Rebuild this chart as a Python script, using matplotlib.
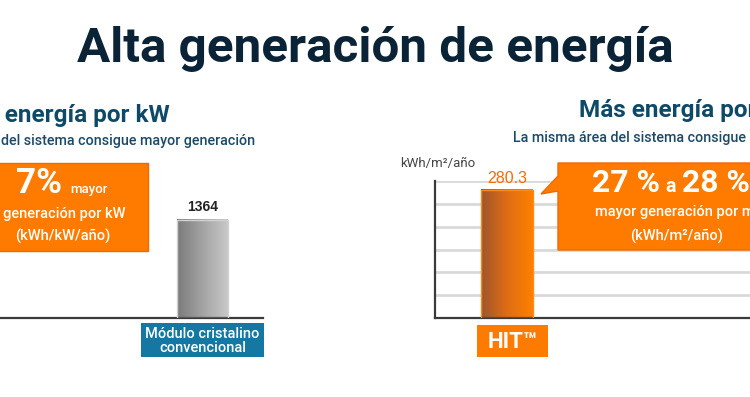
import matplotlib
matplotlib.use("Agg")
import matplotlib.pyplot as plt
import numpy as np
from matplotlib.patches import Rectangle, Polygon
from matplotlib.colors import LinearSegmentedColormap

# ---------------- data ----------------
title = "Alta generación de energía"

left_heading = "Más energía por kW"
left_subheading = "del sistema consigue mayor generación"
left_categories = ["Módulo cristalino\nconvencional"]
left_values = [1364]
left_value_labels = ["1364"]
left_callout_big = "7%"
left_callout_small = "mayor"
left_callout_lines = ["generación por kW", "(kWh/kW/año)"]

right_heading = "Más energía por m²"
right_subheading = "La misma área del sistema consigue mayor generación"
right_unit = "kWh/m²/año"
right_categories = ["HIT™"]
right_values = [280.3]
right_value_labels = ["280.3"]
right_gridlines = [50, 100, 150, 200, 250, 300]
right_callout_parts = ["27 %", "a", "28 %"]
right_callout_lines = ["mayor generación por m²", "(kWh/m²/año)"]

# ---------------- style ----------------
W, H = 750, 397
ORANGE = "#ff7b00"
BLUE = "#1478a2"
NAVY = "#0b2336"
TEAL = "#0e4a68"
SUB = "#1b4a68"
FONT = "Roboto"
NUMFONT = "Liberation Sans"

fig = plt.figure(figsize=(W / 100, H / 100), dpi=100)
fig.patch.set_facecolor("white")


def fr(x0, y0, x1, y1):
    """pixel box (top-left origin) -> figure rect"""
    return [x0 / W, 1 - y1 / H, (x1 - x0) / W, (y1 - y0) / H]


gray_cmap = LinearSegmentedColormap.from_list("g", ["#7b7b7b", "#a3a3a3", "#c8c8c8"])
orange_cmap = LinearSegmentedColormap.from_list("o", ["#9e552e", "#de6d14", "#ff8000"])


def gradient_bars(ax, bars, cmap, edge):
    grad = np.linspace(0, 1, 256).reshape(1, -1)
    for b in bars:
        x0, w, h = b.get_x(), b.get_width(), b.get_height()
        ax.imshow(grad, extent=[x0, x0 + w, 0, h], cmap=cmap, aspect="auto",
                  zorder=2, interpolation="bicubic")
        ax.add_patch(Rectangle((x0, 0), w, h, facecolor="none", edgecolor=edge,
                               lw=1.0, zorder=3))


# ---------------- left bar chart ----------------
ax1 = fig.add_axes(fr(0, 163, 263, 318))
x1 = np.arange(len(left_values))
bars1 = ax1.bar(x1, left_values, width=0.6, color="none", edgecolor="none")
gradient_bars(ax1, bars1, gray_cmap, "#d2d2d2")
ax1.set_xlim(-202.5 / 85, (263 - 202.5) / 85)
ax1.set_ylim(0, 2157)
for s in ["top", "left", "right"]:
    ax1.spines[s].set_visible(False)
ax1.spines["bottom"].set_color("#3a3a3a")
ax1.spines["bottom"].set_linewidth(1.6)
ax1.set_xticks([])
ax1.set_yticks([])
ax1.patch.set_alpha(0)
for xi, v, lab in zip(x1, left_values, left_value_labels):
    ax1.annotate(lab, (xi, v), xytext=(0, 4), textcoords="offset points",
                 ha="center", va="bottom", fontsize=10, fontweight="bold",
                 color="#222222", family=NUMFONT)

# ---------------- right bar chart ----------------
ax2 = fig.add_axes(fr(435, 181, 750, 318))
x2 = np.arange(len(right_values))
bars2 = ax2.bar(x2, right_values, width=0.6, color="none", edgecolor="none")
gradient_bars(ax2, bars2, orange_cmap, "#ff8a1e")
ax2.set_xlim(-72 / 85, (315 - 72) / 85)
ax2.set_ylim(0, 300)
ax2.set_yticks(right_gridlines)
ax2.set_xticks([])
ax2.tick_params(length=0, labelleft=False, labelbottom=False)
ax2.yaxis.grid(True, color="#d9d9d9", lw=2)
ax2.set_axisbelow(True)
for s in ["top", "right"]:
    ax2.spines[s].set_visible(False)
for s in ["left", "bottom"]:
    ax2.spines[s].set_color("#3a3a3a")
    ax2.spines[s].set_linewidth(1.6)
ax2.patch.set_alpha(0)
for xi, v, lab in zip(x2, right_values, right_value_labels):
    ax2.annotate(lab, (xi, v), xytext=(0, 3), textcoords="offset points",
                 ha="center", va="bottom", fontsize=11.5, color="#ff6a00",
                 fontweight="medium", family=NUMFONT)

# ---------------- overlay (pixel coords) ----------------
ov = fig.add_axes([0, 0, 1, 1])
ov.set_xlim(0, W)
ov.set_ylim(H, 0)
ov.axis("off")

renderer = fig.canvas.get_renderer()


def fit(s, target_w, base=10, **kw):
    t = ov.text(0, 0, s, fontsize=base, **kw)
    w = t.get_window_extent(renderer).width
    t.remove()
    return base * target_w / w


# title
ts = fit(title, 596, 30, family=FONT, fontweight="bold")
ov.text(375, 62, title, ha="center", va="baseline", fontsize=ts,
        fontweight="bold", color=NAVY, family=FONT)

# headings
hs = fit("energía por kW", 165, 16, family=FONT, fontweight="bold")
ov.text(170, 122, left_heading, ha="right", va="baseline", fontsize=hs,
        fontweight="bold", color=TEAL, family=FONT)
ov.text(579, 117, right_heading, ha="left", va="baseline", fontsize=hs,
        fontweight="bold", color=TEAL, family=FONT)

ss = fit(left_subheading, 254, 9, family=FONT, fontweight="medium")
ov.text(1, 145, left_subheading, ha="left", va="baseline", fontsize=ss,
        fontweight="medium", color=SUB, family=FONT)
ov.text(513, 142, right_subheading, ha="left", va="baseline", fontsize=ss,
        fontweight="medium", color=SUB, family=FONT)

# unit label
ov.text(400, 167, right_unit, ha="left", va="baseline", fontsize=9.5,
        color="#444444", family=FONT)

# category label boxes
ov.add_patch(Rectangle((141, 323), 123, 34, facecolor=BLUE, edgecolor="none"))
ov.text(202.5, 341, left_categories[0], ha="center", va="center",
        fontsize=10.5, color="white", fontweight="medium", family=FONT,
        linespacing=1.05)
ov.add_patch(Rectangle((477, 325), 71, 32, facecolor=ORANGE, edgecolor="none"))
ov.text(512.5, 342, right_categories[0], ha="center", va="center",
        fontsize=16, color="white", fontweight="bold", family=FONT)

# left callout
ov.add_patch(Rectangle((-5, 163), 153, 88, facecolor=ORANGE,
                       edgecolor="#f26800", lw=1))
bs = fit(left_callout_big, 46, 20, family=FONT, fontweight="bold")
ov.text(16, 193, left_callout_big, ha="left", va="baseline", fontsize=bs,
        fontweight="bold", color="white", family=FONT)
ov.text(70, 193, left_callout_small, ha="left", va="baseline", fontsize=9.5,
        fontweight="medium", color="white", family=FONT)
cs = fit(left_callout_lines[0], 122, 10, family=FONT, fontweight="medium")
ov.text(64, 218, left_callout_lines[0], ha="center", va="baseline",
        fontsize=cs, fontweight="medium", color="white", family=FONT)
ov.text(63, 241, left_callout_lines[1], ha="center", va="baseline",
        fontsize=cs, fontweight="medium", color="white", family=FONT)

# right callout (speech bubble)
ov.add_patch(Polygon([(558, 163), (770, 163), (770, 250), (558, 250),
                      (558, 191), (541, 194), (558, 176)],
                     closed=True, facecolor=ORANGE, edgecolor="#f26800", lw=1))
rs = fit("27 %", 68, 18, family=FONT, fontweight="bold")
ov.text(592, 192, right_callout_parts[0], ha="left", va="baseline",
        fontsize=rs, fontweight="bold", color="white", family=FONT)
ov.text(665, 192, right_callout_parts[1], ha="left", va="baseline",
        fontsize=rs * 0.62, fontweight="bold", color="white", family=FONT)
ov.text(682, 192, right_callout_parts[2], ha="left", va="baseline",
        fontsize=rs, fontweight="bold", color="white", family=FONT)
ov.text(595, 216, right_callout_lines[0], ha="left", va="baseline",
        fontsize=cs, fontweight="medium", color="white", family=FONT)
ov.text(677, 241, right_callout_lines[1], ha="center", va="baseline",
        fontsize=cs, fontweight="medium", color="white", family=FONT)

fig.savefig("out.png", dpi=100, facecolor="white")
